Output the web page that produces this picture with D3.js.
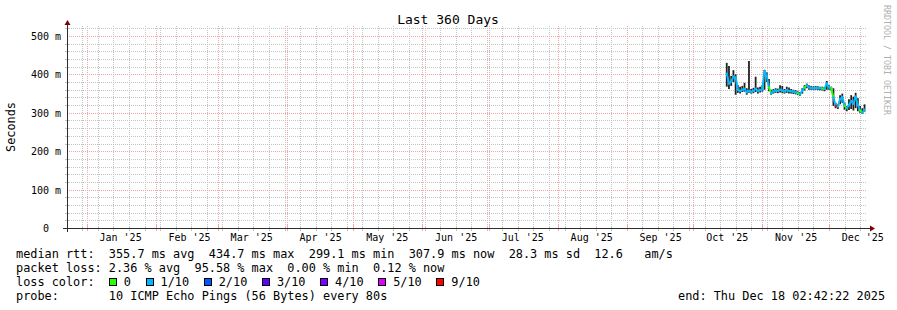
<!DOCTYPE html>
<html><head><meta charset="utf-8">
<script src="https://cdn.jsdelivr.net/npm/d3@7"></script>
<style>
html,body{margin:0;padding:0;background:#fff;}
svg{display:block;}
text{font-family:"DejaVu Sans Mono", monospace;white-space:pre;}
</style></head><body>
<svg id="c" width="897" height="310"></svg>
<script>
// ---------- data ----------
const title = "Last 360 Days";
const yTitle = "Seconds";
const watermark = "RRDTOOL / TOBI OETIKER";
const endTime = "2025-12-18T02:42:22";
const spanDays = 360;
const monthLabels = ["Jan '25","Feb '25","Mar '25","Apr '25","May '25","Jun '25","Jul '25","Aug '25","Sep '25","Oct '25","Nov '25","Dec '25"];
const yTicks = [0, 100, 200, 300, 400, 500];
const yTickLabels = ["0  ", "100 m", "200 m", "300 m", "400 m", "500 m"];

const dates = ["2025-10-16","2025-10-17","2025-10-18","2025-10-19","2025-10-20","2025-10-21","2025-10-22","2025-10-23","2025-10-24","2025-10-25",
"2025-10-26","2025-10-27","2025-10-28","2025-10-29","2025-10-30","2025-10-31","2025-11-01","2025-11-02","2025-11-03","2025-11-04",
"2025-11-05","2025-11-06","2025-11-07","2025-11-08","2025-11-09","2025-11-10","2025-11-11","2025-11-12","2025-11-13","2025-11-14",
"2025-11-15","2025-11-16","2025-11-17","2025-11-18","2025-11-19","2025-11-20","2025-11-21","2025-11-22","2025-11-23","2025-11-24",
"2025-11-25","2025-11-26","2025-11-27","2025-11-28","2025-11-29","2025-11-30","2025-12-01","2025-12-02","2025-12-03","2025-12-04",
"2025-12-05","2025-12-06","2025-12-07","2025-12-08","2025-12-09","2025-12-10","2025-12-11","2025-12-12","2025-12-13","2025-12-14",
"2025-12-15","2025-12-16","2025-12-17"];
// median rtt in ms
const median = [402,376,382,394,392,360,357,360,362,354,
357,355,357,362,357,359,361,408,396,366,
351,356,358,357,360,358,356,359,357,356,
355,353,351,348,358,366,371,366,365,364,
365,364,364,363,362,376,366,364,340,318,
316,336,341,318,312,320,330,324,342,320,
306,300,308];
const smokeLo = [368,362,370,380,347,352,350,354,355,347,
352,350,351,354,350,353,355,360,380,356,
347,350,352,351,353,351,350,352,350,350,
349,348,346,344,350,358,364,360,360,359,
360,359,359,358,356,360,360,358,318,312,
310,322,326,308,304,307,310,306,312,304,
300,297,303];
const smokeHi = [430,422,396,411,400,372,368,370,378,364,
435,362,365,394,366,368,372,412,405,388,
360,362,364,363,372,370,362,368,366,362,
360,359,356,354,364,372,376,372,370,369,
370,369,368,368,367,383,372,368,364,326,
322,346,350,326,318,335,346,342,352,338,
318,312,322];
// loss index into lossColors
const lossIdx = [1,1,1,1,1,1,1,1,1,1,
1,1,1,1,1,1,1,1,1,1,
0,1,1,1,1,1,1,1,1,1,
1,1,1,0,1,1,0,1,1,1,
1,1,1,1,0,1,1,1,0,1,
6,1,1,1,0,1,1,1,1,1,
1,0,1];
const lossColors = ["#26ff00","#00b8ff","#0059ff","#5e00ff","#7e00ff","#dd00ff","#ff0000"];
const lossLabels = ["0","1/10","2/10","3/10","4/10","5/10","9/10"];

const legendRows = [
  "median rtt:  355.7 ms avg  434.7 ms max  299.1 ms min  307.9 ms now  28.3 ms sd  12.6   am/s",
  "packet loss: 2.36 % avg  95.58 % max  0.00 % min  0.12 % now",
  "loss color:",
  "probe:       10 ICMP Echo Pings (56 Bytes) every 80s"
];
const endLabel = "end: Thu Dec 18 02:42:22 2025";

// ---------- drawing ----------
const svg = d3.select("#c");
svg.append("rect").attr("width",897).attr("height",310).attr("fill","#fff");

const X0 = 67, X1 = 867, Y0 = 228, YTOP = 26;
const parse = d3.timeParse("%Y-%m-%dT%H:%M:%S");
const end = parse(endTime);
const start = d3.timeDay.offset(end, -spanDays);
const x = d3.scaleTime().domain([start, end]).range([X0, X1]);
const y = d3.scaleLinear().domain([0, 500]).range([Y0, 36]);
const topVal = y.invert(YTOP);

const px = v => Math.round(v) + 0.5;
const gridG = svg.append("g");
const GRID = "#c4c4c4", MGRID = "#f2a8a8";

// minor horizontal
d3.range(20, topVal, 20).filter(v => v % 100 !== 0).forEach(v => {
  gridG.append("line").attr("x1",X0).attr("x2",X1).attr("y1",px(y(v))).attr("y2",px(y(v)))
    .attr("stroke",GRID).attr("stroke-dasharray","1,1");
  gridG.append("line").attr("x1",X0-2).attr("x2",X0+2).attr("y1",px(y(v))).attr("y2",px(y(v))).attr("stroke",GRID);
});
// minor vertical (weekly)
d3.timeMonday.range(start, end).forEach(d => {
  gridG.append("line").attr("x1",px(x(d))).attr("x2",px(x(d))).attr("y1",YTOP).attr("y2",Y0)
    .attr("stroke",GRID).attr("stroke-dasharray","1,1");
  gridG.append("line").attr("x1",px(x(d))).attr("x2",px(x(d))).attr("y1",Y0-2).attr("y2",Y0+3).attr("stroke",GRID);
});
// major horizontal
yTicks.filter(v => v > 0).forEach(v => {
  gridG.append("line").attr("x1",X0).attr("x2",X1).attr("y1",px(y(v))).attr("y2",px(y(v)))
    .attr("stroke",MGRID).attr("stroke-dasharray","1,1");
});
// major vertical (months)
const months = d3.timeMonth.range(start, end);
months.forEach(d => {
  gridG.append("line").attr("x1",px(x(d))).attr("x2",px(x(d))).attr("y1",YTOP).attr("y2",Y0)
    .attr("stroke",MGRID).attr("stroke-dasharray","1,1");
  gridG.append("line").attr("x1",px(x(d))).attr("x2",px(x(d))).attr("y1",Y0-3).attr("y2",Y0+3).attr("stroke",MGRID);
});

// ---------- data marks ----------
const pts = dates.map((s,i) => ({t: d3.timeParse("%Y-%m-%d")(s), m: median[i], lo: smokeLo[i], hi: smokeHi[i], l: lossIdx[i]}));
const dataG = svg.append("g");
pts.forEach(p => {
  dataG.append("line").attr("x1",x(p.t)).attr("x2",x(p.t)).attr("y1",y(p.hi)).attr("y2",y(p.lo))
    .attr("stroke","#222").attr("stroke-width",1.8);
});
for (let i = 1; i < pts.length; i++) {
  dataG.append("line").attr("x1",x(pts[i-1].t)).attr("y1",y(pts[i-1].m))
    .attr("x2",x(pts[i].t)).attr("y2",y(pts[i].m))
    .attr("stroke",lossColors[pts[i].l]).attr("stroke-width",2).attr("stroke-linecap","square");
}

// ---------- axes ----------
const AX = "#2c2c2c";
svg.append("line").attr("x1",X0-4).attr("x2",X1+4).attr("y1",Y0+0.5).attr("y2",Y0+0.5).attr("stroke",AX);
svg.append("line").attr("x1",X0+0.5).attr("x2",X0+0.5).attr("y1",Y0+4).attr("y2",YTOP-1).attr("stroke",AX);
svg.append("path").attr("d",`M${X1+3},${Y0-2.5}L${X1+8},${Y0+0.5}L${X1+3},${Y0+3.5}Z`).attr("fill","#7f0000");
svg.append("path").attr("d",`M${X0-2.5},${YTOP-1}L${X0+3.5},${YTOP-1}L${X0+0.5},${YTOP-6}Z`).attr("fill","#7f0000");

// x labels via d3 axis (centred mid-month)
const labelDates = months.map(d => d3.timeDay.offset(d, 15));
const xAxis = d3.axisBottom(x).tickValues(labelDates).tickSize(0)
  .tickFormat((d,i) => monthLabels[i]);
const gx = svg.append("g").attr("transform",`translate(0,${Y0+3})`).call(xAxis);
gx.select(".domain").remove();
gx.selectAll("text").attr("font-size","10px").attr("fill","#000").attr("dy","0.71em")
  .style("font-family","'DejaVu Sans Mono', monospace");

// y labels
const yAxis = d3.axisLeft(y).tickValues(yTicks).tickSize(0).tickFormat((d,i) => yTickLabels[i]);
const gy = svg.append("g").attr("transform",`translate(${X0-6},0)`).call(yAxis);
gy.select(".domain").remove();
gy.selectAll("text").attr("font-size","10px").attr("fill","#000").attr("x",0).attr("dy","0.35em")
  .style("font-family","'DejaVu Sans Mono', monospace");

// titles
svg.append("text").attr("x",448).attr("y",24).attr("text-anchor","middle").attr("font-size","13px").attr("fill","#000").text(title);
svg.append("text").attr("transform","translate(15,127) rotate(-90)").attr("text-anchor","middle")
  .attr("font-size","11.86px").attr("fill","#000").text(yTitle);
svg.append("text").attr("transform","translate(884,5) rotate(90)").attr("text-anchor","start")
  .attr("font-size","8.3px").attr("fill","#b0b0b0").text(watermark);

// legend
const LX = 16, CW = 7.14, FS = "11.86px";
const rowY = [258, 272, 286, 300];
legendRows.forEach((s,i) => {
  svg.append("text").attr("x",LX).attr("y",rowY[i]).attr("font-size",FS).attr("fill","#000").text(s);
});
let sx = LX + 13 * CW;
lossLabels.forEach((lab,i) => {
  svg.append("rect").attr("x",Math.round(sx)+0.5).attr("y",278.5).attr("width",7).attr("height",7)
    .attr("fill",lossColors[i]).attr("stroke","#000").attr("stroke-width",1);
  const lx = sx + 15;
  svg.append("text").attr("x",lx).attr("y",rowY[2]).attr("font-size",FS).attr("fill","#000").text(lab);
  sx = lx + lab.length * CW + 14.6;
});
svg.append("text").attr("x",678).attr("y",rowY[3]).attr("font-size",FS).attr("fill","#000").text(endLabel);
</script>
</body></html>
